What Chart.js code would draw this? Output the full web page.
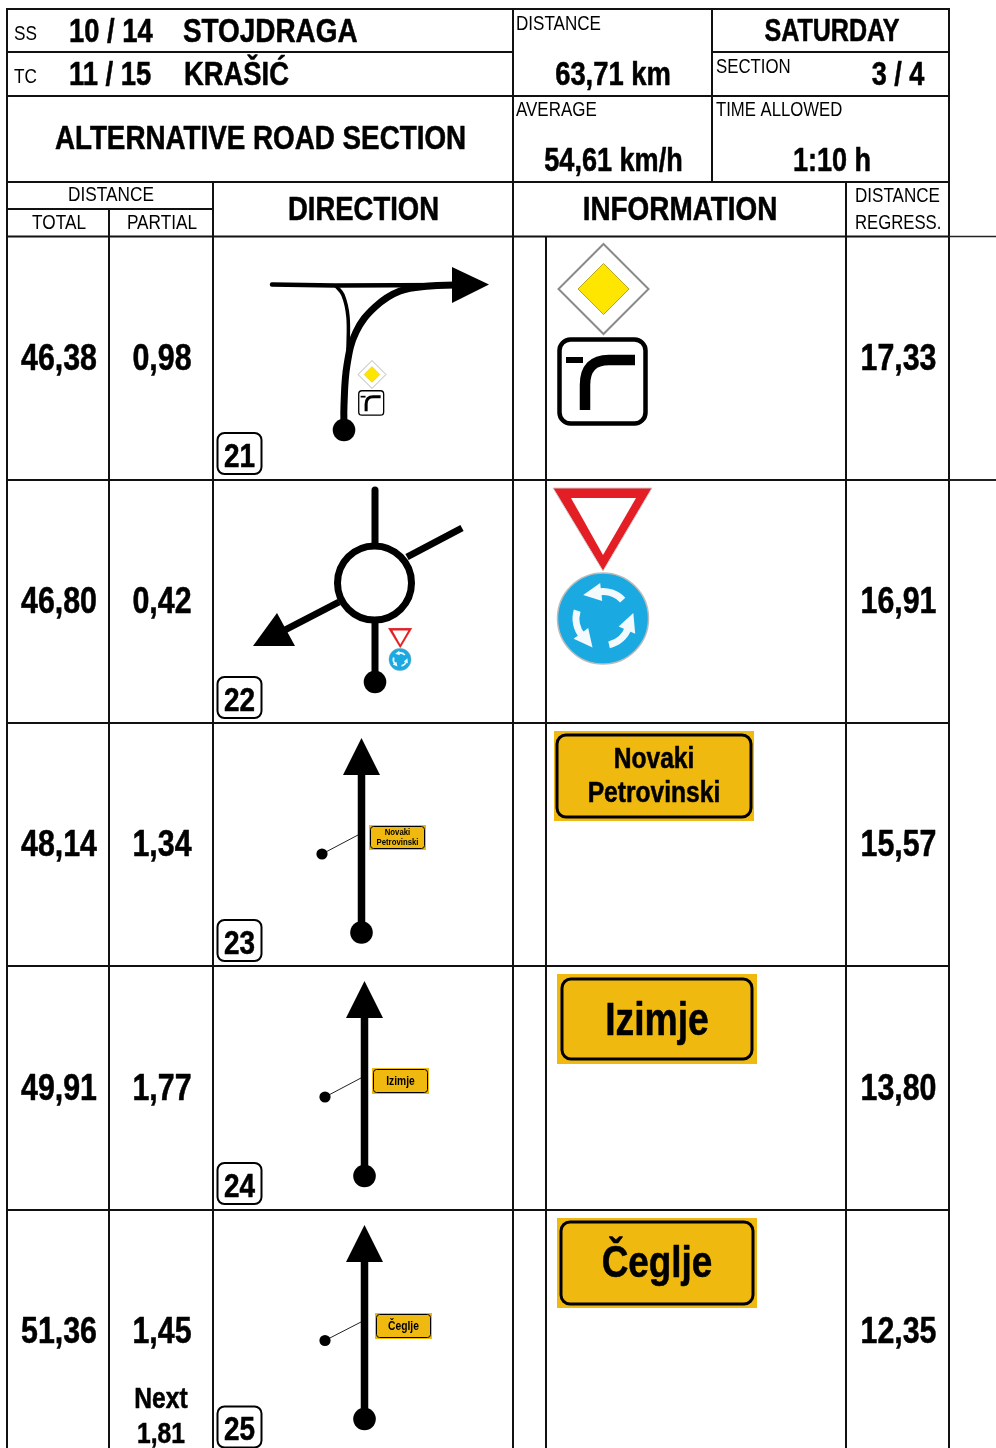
<!DOCTYPE html>
<html><head><meta charset="utf-8">
<style>html,body{margin:0;padding:0;background:#fff}canvas{display:block}</style>
<script src="https://cdn.jsdelivr.net/npm/chart.js@4"></script></head>
<body><canvas id="c" width="996" height="1448"></canvas>
<script>
const rowNumbers=["21","22","23","24","25"];
const totalKm=["46,38","46,80","48,14","49,91","51,36"];
const partialKm=["0,98","0,42","1,34","1,77","1,45"];
const regressKm=["17,33","16,91","15,57","13,80","12,35"];
const placeNames=["Novaki\nPetrovinski","Izimje","Čeglje"];
const nextLabel=["Next","1,81"];
const FONT='"Liberation Sans",Arial,sans-serif';
const NARROW=.82;
const rowCenters=[357,600,843,1087,1330];

function nt(c,t,x,y,size,bold,align){
 c.save();c.font=(bold?'bold ':'')+size+'px '+FONT;c.textAlign=align||'left';
 c.translate(x,y);c.scale(NARROW,1);c.fillText(t,0,0);
 if(bold&&size>=20){c.strokeStyle=c.fillStyle;c.lineWidth=.55;c.lineJoin='round';c.strokeText(t,0,0);}
 c.restore();
}
function P(a){return a.map(p=>({x:p[0],y:p[1]}));}
function L(pts,w,o){return Object.assign({data:P(pts),showLine:true,borderColor:'#000',backgroundColor:'#000',borderWidth:w,pointRadius:0,fill:false,tension:0,borderCapStyle:'butt'},o||{});}
function G(a,b,c,d){return L([[a,b],[c,d]],2,{borderColor:'#111'});}
function T(pts){return L(pts.concat([pts[0]]),0,{fill:'shape',borderWidth:0});}

const rules=[
 [6,9,950,9],[7,52,513,52],[712,52,949,52],[7,96,949,96],[7,182,949,182],[7,209,213,209],[7,236.5,949,236.5],
 [7,8,7,1448],[513,9,513,1448],[712,9,712,182],[949,8,949,1448],[109,209,109,1448],[213,182,213,1448],[546,236,546,1448],[846,182,846,1448],
 [7,480,949,480],[7,723,949,723],[7,966,949,966],[7,1210,949,1210]
].map(r=>G(...r));
const stubs=[[949,236.5,996,236.5,1.5],[949,480,996,480,2]].map(r=>L([[r[0],r[1]],[r[2],r[3]]],r[4],{borderColor:'#222'}));

const road=[
 L([[272,284.5],[335,285.5],[455,285]],4.5,{borderCapStyle:'round'}),
 L([[335,285],[343,295],[348,317],[348,350]],3.5,{tension:.35}),
 L([[344,430],[344,405],[347,365],[356,332],[375,307],[400,291],[430,286],[455,285]],7,{tension:.4}),
 T([[452,267],[489,284.5],[452,303]]),
 L([[375,490],[375,545]],7,{borderCapStyle:'round'}),
 L([[407,557],[462,528]],7),
 L([[339,602],[283,631]],7),
 T([[253,646],[295,646],[277,613]]),
 L([[375,622],[375,682]],7),
];
[[361.5,738,322,854,358,835],[364.5,981,325,1097,361,1078],[364.5,1225,325,1340.5,361,1322]].forEach(a=>{
 const [x,y,sx,sy,ex,ey]=a;
 road.push(L([[x,y+30],[x,y+194]],7.5));
 road.push(T([[x,y],[x+18.5,y+37],[x-18.5,y+37]]));
 road.push(L([[sx,sy],[ex,ey]],1,{borderColor:'#222'}));
});
const dots={data:P([[344,430],[375,682],[361.5,932.5],[364.5,1176],[364.5,1419],[322,854],[325,1097],[325,1340.5]]),
 pointRadius:[11.3,11.3,11.3,11.3,11.3,5.6,5.6,5.6],pointBackgroundColor:'#000',pointBorderWidth:0,showLine:false};
const ring={data:P([[374.5,583]]),pointRadius:37,pointBackgroundColor:'#fff',pointBorderColor:'#000',pointBorderWidth:7,showLine:false};

function rr(c,x,y,w,h,r){c.beginPath();c.roundRect(x,y,w,h,r);}
function priority(c,cx,cy,s){
 c.save();c.translate(cx,cy);c.scale(s,s);
 c.beginPath();c.moveTo(0,-45);c.lineTo(45,0);c.lineTo(0,45);c.lineTo(-45,0);c.closePath();
 c.fillStyle='#fff';c.fill();c.strokeStyle='#8a8a8a';c.lineWidth=2;c.stroke();
 c.beginPath();c.moveTo(0,-25.5);c.lineTo(25.5,0);c.lineTo(0,25.5);c.lineTo(-25.5,0);c.closePath();
 c.fillStyle='#FFE600';c.fill();c.strokeStyle='#B8A520';c.lineWidth=1;c.stroke();c.restore();
}
function curveSign(c,x,y,s){
 c.save();c.translate(x,y);c.scale(s,s);
 rr(c,2.5,2.5,86,84,11);c.fillStyle='#fff';c.fill();c.strokeStyle='#000';c.lineWidth=4.5;c.stroke();
 c.fillStyle='#000';c.fillRect(9,20,17,6);
 c.beginPath();c.moveTo(78,23);c.lineTo(52,23);c.quadraticCurveTo(28,23,28,48);c.lineTo(28,73);c.lineWidth=10.5;c.stroke();
 c.restore();
}
function yieldSign(c,x,y,s){
 c.save();c.translate(x,y);c.scale(s,s);
 c.beginPath();c.moveTo(0,0);c.lineTo(99,0);c.lineTo(50,83);c.closePath();c.fillStyle='#E31E24';c.fill();c.strokeStyle='#ccc';c.lineWidth=1;c.stroke();
 c.beginPath();c.moveTo(18,10);c.lineTo(83,10);c.lineTo(50,67);c.closePath();c.fillStyle='#fff';c.fill();c.restore();
}
function roundaboutSign(c,cx,cy,s){
 c.save();c.translate(cx,cy);c.scale(s,s);
 c.beginPath();c.arc(0,0,45.5,0,7);c.fillStyle='#1BA9E1';c.fill();c.strokeStyle='#bbb';c.lineWidth=1.5;c.stroke();
 for(let i=0;i<3;i++){c.save();c.rotate(i*2.094);
  c.beginPath();c.arc(0,0,27,-0.75,-1.75,true);c.strokeStyle='#f2fafd';c.lineWidth=7;c.stroke();
  const hx=27*Math.cos(-1.75),hy=27*Math.sin(-1.75);
  c.beginPath();c.moveTo(hx-15,hy+3);c.lineTo(hx+2,hy-9);c.lineTo(hx+4,hy+9);c.closePath();c.fillStyle='#f2fafd';c.fill();c.restore();}
 c.restore();
}
function plate(c,x,y,w,h,lines,size,b,ix,iy,lh,dy){
 c.fillStyle='#F0B90F';c.fillRect(x,y,w,h);
 rr(c,x+ix,y+iy,w-ix*2,h-iy*2,b*3);c.strokeStyle='#000';c.lineWidth=b;c.stroke();
 c.fillStyle='#000';c.textBaseline='middle';
 lines.forEach((t,i)=>nt(c,t,x+w/2,y+h/2+(i-(lines.length-1)/2)*lh+size*.02+(dy||0),size,true,'center'));
}
const headerTexts=[
 ["SS",14,39.5,21,0,'left'],["10 / 14",69,41.5,33.4,1,'left'],["STOJDRAGA",183,41.5,34,1,'left'],
 ["TC",14,83,21,0,'left'],["11 / 15",69,85,33.4,1,'left'],["KRAŠIĆ",184,85,33.4,1,'left'],
 ["ALTERNATIVE ROAD SECTION",260.5,149,33.9,1,'center'],
 ["DISTANCE",516,29.5,20.8,0,'left'],["63,71 km",613,85,33.4,1,'center'],["SATURDAY",832,41,30.6,1,'center'],
 ["SECTION",716,72.5,20.5,0,'left'],["3 / 4",898,85,33,1,'center'],["AVERAGE",516,115.5,20.7,0,'left'],
 ["54,61 km/h",613.5,171,33,1,'center'],["TIME ALLOWED",716,115.5,20.4,0,'left'],["1:10 h",832,171,33,1,'center'],
 ["DISTANCE",111,200.5,21,0,'center'],["TOTAL",59,229,21,0,'center'],["PARTIAL",162,229,21,0,'center'],
 ["DIRECTION",363.5,220,33.5,1,'center'],["INFORMATION",680,220,34,1,'center'],
 ["DISTANCE",855,201.5,20.8,0,'left'],["REGRESS.",855,229,20.4,0,'left']
];
const draw={id:'sheet',afterDatasetsDraw(ch){
 const c=ch.ctx,X=ch.scales.x,Y=ch.scales.y,px=v=>X.getPixelForValue(v),py=v=>Y.getPixelForValue(v);
 priority(c,px(603.5),py(289),1);curveSign(c,px(557),py(337),1);
 priority(c,px(372),py(374.5),.31);curveSign(c,px(358),py(390),.29);
 yieldSign(c,px(553),py(488),1);roundaboutSign(c,px(603),py(618.5),1);
 yieldSign(c,px(388),py(628),.245);roundaboutSign(c,px(400),py(659.5),.245);
 plate(c,px(554),py(731),200,90,placeNames[0].split('\n'),30,3,3,4,34,0);
 plate(c,px(557),py(974),200,90,[placeNames[1]],45.5,3,5,5,0,3);
 plate(c,px(557),py(1218),200,90,[placeNames[2]],45,3,4,4,0,1);
 plate(c,px(369),py(825),57,25,placeNames[0].split('\n'),9.5,1,1.5,1.5,10,0);
 plate(c,px(372),py(1068),57,26,[placeNames[1]],12.5,1,1.5,1.5,0,0);
 plate(c,px(375),py(1313),57,26,[placeNames[2]],12.5,1,1.5,1.5,0,0);
 c.textBaseline='alphabetic';c.fillStyle='#000';
 headerTexts.forEach(([t,x,y,s,b,a])=>nt(c,t,px(x),py(y),s,b,a));
 rowCenters.forEach((m,i)=>{
  nt(c,totalKm[i],px(59),py(m+13),37,1,'center');nt(c,partialKm[i],px(162),py(m+13),37,1,'center');nt(c,regressKm[i],px(898.5),py(m+13),37,1,'center');
 });
 nt(c,nextLabel[0],px(161),py(1408),30,1,'center');nt(c,nextLabel[1],px(161),py(1443),30,1,'center');
 [433,677,920,1163,1406.5].forEach((y,i)=>{
  rr(c,px(217.5),py(y),44,41,7);c.fillStyle='#fff';c.fill();c.strokeStyle='#000';c.lineWidth=2;c.stroke();
  c.fillStyle='#000';nt(c,rowNumbers[i],px(239.5),py(y+33.5),34,1,'center');
 });
}};
new Chart(document.getElementById('c'),{type:'scatter',
 data:{datasets:[ring,dots,...road,...stubs,...rules]},
 options:{responsive:false,animation:false,events:[],layout:{padding:0,autoPadding:false},
  plugins:{legend:{display:false},tooltip:{enabled:false},title:{display:false}},
  scales:{x:{type:'linear',min:0,max:996,display:false},y:{type:'linear',min:0,max:1448,reverse:true,display:false}}},
 plugins:[draw]});
</script></body></html>
